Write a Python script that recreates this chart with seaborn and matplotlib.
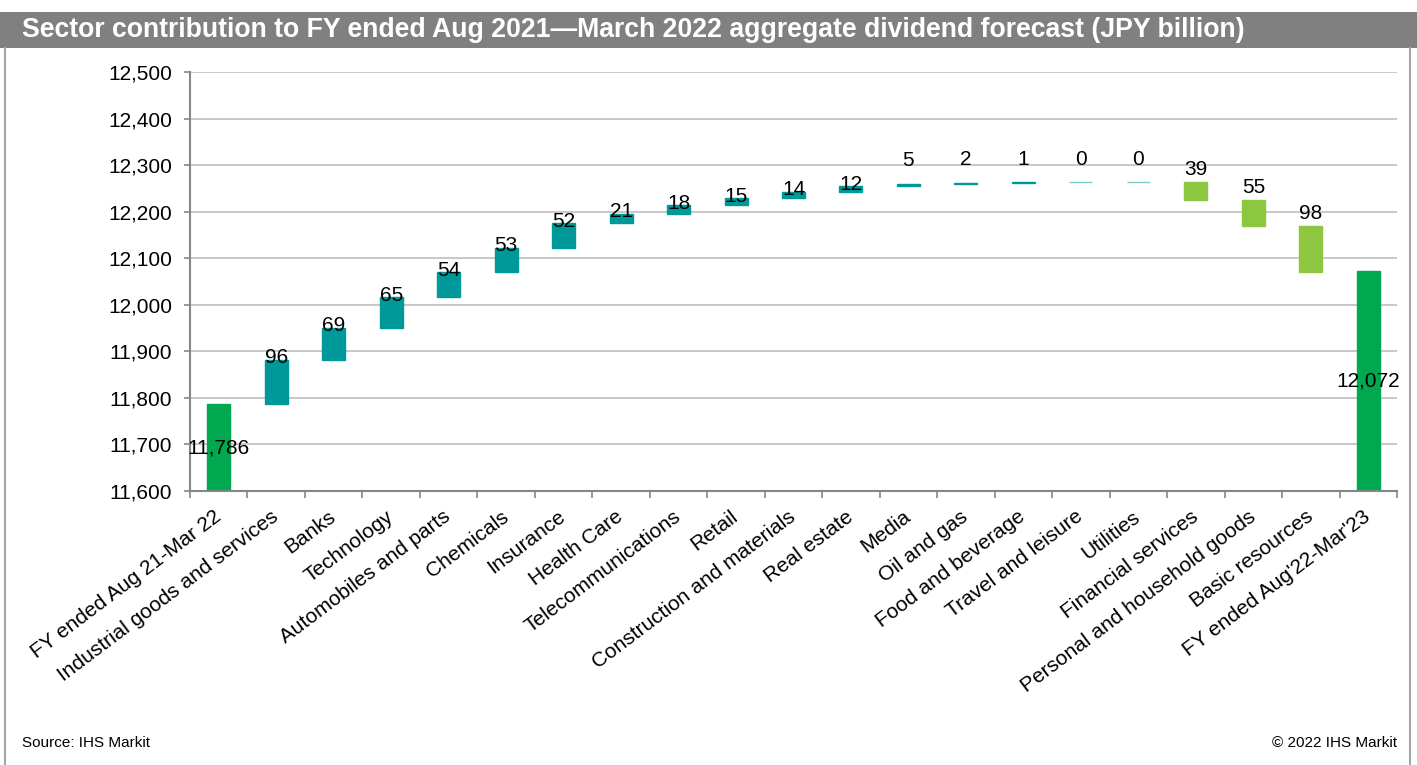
import numpy as np
import pandas as pd
import matplotlib
matplotlib.use("Agg")
import matplotlib.pyplot as plt
import seaborn as sns
from matplotlib.ticker import FuncFormatter, FixedLocator, MultipleLocator
from matplotlib.lines import Line2D
from matplotlib.patches import Rectangle

# ---------------- data ----------------
categories = [
    "FY ended Aug 21-Mar 22", "Industrial goods and services", "Banks", "Technology",
    "Automobiles and parts", "Chemicals", "Insurance", "Health Care",
    "Telecommunications", "Retail", "Construction and materials", "Real estate",
    "Media", "Oil and gas", "Food and beverage", "Travel and leisure", "Utilities",
    "Financial services", "Personal and household goods", "Basic resources",
    "FY ended Aug'22-Mar'23",
]
start_total = 11786
end_total = 12072
increases = [96, 69, 65, 54, 53, 52, 21, 18, 15, 14, 12, 5, 2, 1, 0, 0]
decreases = [39, 55, 98]

TITLE = "Sector contribution to FY ended Aug 2021\u2014March 2022 aggregate dividend forecast (JPY billion)"
SOURCE = "Source: IHS Markit"
COPYRIGHT = "\u00a9 2022 IHS Markit"

# ---------------- build waterfall ----------------
bottoms, heights, kinds, labels = [], [], [], []
bottoms.append(0); heights.append(start_total); kinds.append("total"); labels.append(f"{start_total:,}")
run = start_total
for v in increases:
    bottoms.append(run); heights.append(v); kinds.append("up"); labels.append(f"{v}")
    run += v
for v in decreases:
    run -= v
    bottoms.append(run); heights.append(v); kinds.append("down"); labels.append(f"{v}")
bottoms.append(0); heights.append(end_total); kinds.append("total"); labels.append(f"{end_total:,}")

df = pd.DataFrame({"category": categories, "height": heights, "bottom": bottoms, "kind": kinds})

colors = {"total": "#00A94F", "up": "#009999", "down": "#8DC63F"}

plt.rcParams["font.family"] = ["Liberation Sans", "DejaVu Sans"]
fig = plt.figure(figsize=(14.17, 7.65), dpi=100)
ax = fig.add_axes([190 / 1417, 1 - 491 / 765, (1397 - 190) / 1417, (491 - 72) / 765])

sns.barplot(data=df, x="category", y="height", bottom=df["bottom"].values, color="#009999",
            width=0.4, ax=ax, linewidth=1, saturation=1)

for p, k, h in zip(ax.patches, kinds, heights):
    c = colors[k]
    p.set_facecolor(c)
    p.set_edgecolor(c if h > 0 else (c + "80"))
    p.set_linewidth(1)

ax.set_ylim(11600, 12500)
ax.set_xlim(-0.5, len(categories) - 0.5)
ax.yaxis.set_major_locator(MultipleLocator(100))
ax.yaxis.set_major_formatter(FuncFormatter(lambda v, _: f"{int(v):,}"))
ax.grid(axis="y", color="#BFBFBF", linewidth=1.2)
ax.set_axisbelow(True)
ax.set_xlabel("")
ax.set_ylabel("")
for s in ["top", "right"]:
    ax.spines[s].set_visible(False)
for s in ["left", "bottom"]:
    ax.spines[s].set_color("#868686")
    ax.spines[s].set_linewidth(1.5)

ax.tick_params(axis="y", length=4, width=1.2, color="#868686", pad=9, labelsize=15, labelcolor="black")
ax.set_xticks(range(len(categories)))
ax.set_xticklabels(categories, rotation=37, ha="right", rotation_mode="anchor", fontsize=15)
ax.tick_params(axis="x", which="major", length=0, pad=17)
ax.xaxis.set_minor_locator(FixedLocator(np.arange(-0.5, len(categories), 1.0)))
ax.tick_params(axis="x", which="minor", length=5, width=1.2, color="#868686")
for t in ax.get_xticklabels():
    t.set_va("center")

# value labels
for i, (k, b, h, lab) in enumerate(zip(kinds, bottoms, heights, labels)):
    if k == "total":
        y = (max(b, 11600) + b + h) / 2
        ax.annotate(lab, (i, y), ha="center", va="center", fontsize=15)
    elif k == "up":
        top = b + h
        off = 2 if h >= 10 else 23
        ax.annotate(lab, (i, top), xytext=(0, off), textcoords="offset pixels",
                    ha="center", va="center", fontsize=15)
    else:
        top = b + h
        ax.annotate(lab, (i, top), xytext=(0, 13), textcoords="offset pixels",
                    ha="center", va="center", fontsize=15)

# frame: title bar and side borders
fig.patches.append(Rectangle((0, 1 - 48 / 765), 1, 36 / 765, transform=fig.transFigure,
                             facecolor="#808080", edgecolor="none", zorder=0))
fig.text(22 / 1417, 1 - 30 / 765, TITLE, color="white", fontsize=19.2, fontweight="bold",
         ha="left", va="center")
fig.lines.append(Line2D([5 / 1417, 5 / 1417], [0, 1 - 48 / 765], transform=fig.transFigure,
                        color="#A6A6A6", linewidth=1.5))
fig.lines.append(Line2D([1410 / 1417, 1410 / 1417], [0, 1 - 48 / 765], transform=fig.transFigure,
                        color="#A6A6A6", linewidth=1.5))
fig.text(22 / 1417, 1 - 743 / 765, SOURCE, fontsize=11, ha="left", va="center")
fig.text(1397 / 1417, 1 - 743 / 765, COPYRIGHT, fontsize=11, ha="right", va="center")

fig.savefig("out.png", dpi=100)
